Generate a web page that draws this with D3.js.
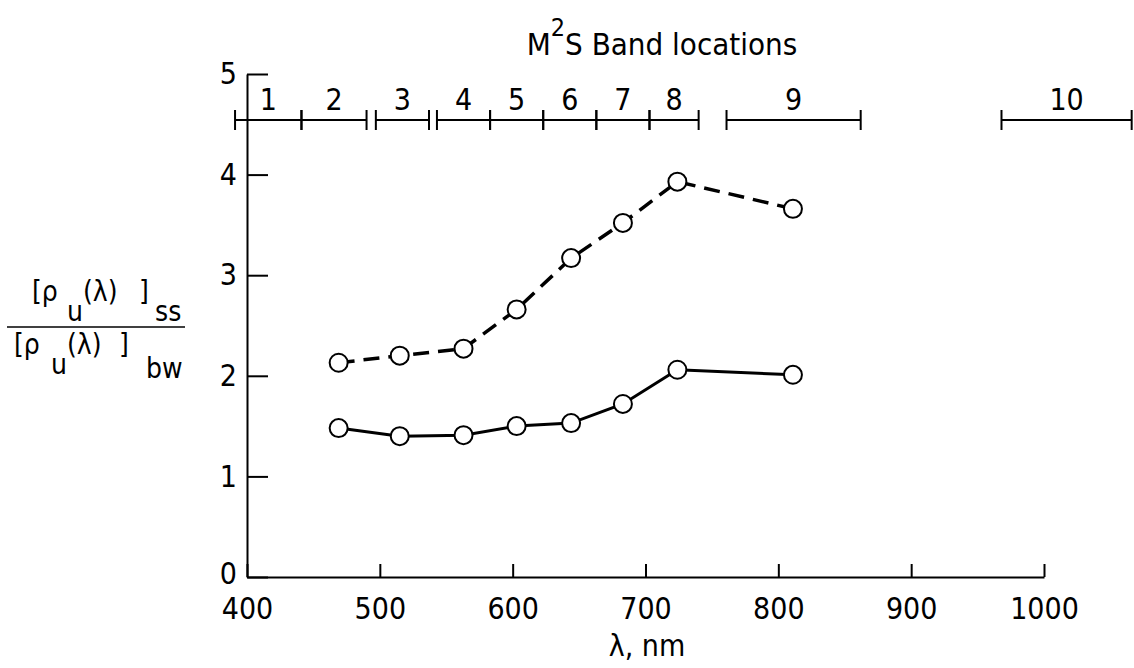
<!DOCTYPE html>
<html>
<head>
<meta charset="utf-8">
<script src="https://cdn.jsdelivr.net/npm/d3@7"></script>
<style>
body { margin: 0; background: #fff; }
text { font-family: "Liberation Sans Narrow", "DejaVu Sans Condensed", "Liberation Sans", sans-serif; fill: #000; }
</style>
</head>
<body>
<div id="svgSpot"></div>
<script>
// wavelength (nm) of each measured point
var wavelengths = [469, 515, 563, 603, 644, 683, 724, 811];
// ratio [rho_u]ss / [rho_u]bw
var ratioDashed = [2.13, 2.20, 2.27, 2.66, 3.17, 3.52, 3.93, 3.66];
var ratioSolid = [1.48, 1.40, 1.41, 1.50, 1.53, 1.72, 2.06, 2.01];

var xTicks = [400, 500, 600, 700, 800, 900, 1000];
var yTicks = [0, 1, 2, 3, 4, 5];

// M2S band locations, nm
var bandNames = ["1", "2", "3", "4", "5", "6", "7", "8", "9", "10"];
var bandStart = [391, 441, 497, 543, 583, 623, 663, 703, 761, 968];
var bandEnd = [441, 490, 537, 583, 623, 663, 703, 740, 862, 1066];

var svg = d3.select('#svgSpot').append('svg')
	.attr("width", 1134)
	.attr("height", 668);

var x = d3.scaleLinear().domain([400, 1000]).range([247, 1044]);
var y = d3.scaleLinear().domain([0, 5]).range([577, 74]);

drawAxes();
drawBands();
drawSeries(ratioDashed, "16,9", 3.5);
drawSeries(ratioSolid, null, 3);
drawLabels();

function drawAxes() {
	var yAxis = d3.axisLeft(y)
		.tickValues(yTicks)
		.tickSizeInner(-21)
		.tickSizeOuter(0)
		.tickPadding(10)
		.tickFormat(d3.format("d"));
	var gy = svg.append("g").attr("transform", "translate(" + x(400) + ",0)").call(yAxis);

	var xAxis = d3.axisBottom(x)
		.tickValues(xTicks)
		.tickSizeInner(-13)
		.tickSizeOuter(0)
		.tickPadding(21)
		.tickFormat(d3.format("d"));
	var gx = svg.append("g").attr("transform", "translate(0," + y(0) + ")").call(xAxis);

	[gx, gy].forEach(function(g) {
		g.selectAll("path, line").attr("stroke", "#000").attr("stroke-width", 2);
		g.selectAll("text").style("font-size", "30px").attr("fill", "#000");
	});
	// lift the "0" a little so it clears the "400" below it
	gy.selectAll(".tick text").filter(function(d) { return d === 0; }).attr("dy", "0.2em");
}

function drawBands() {
	var by = 120;
	var g = svg.append("g");
	for (var i = 0; i < bandNames.length; i++) {
		var x0 = x(bandStart[i]), x1 = x(bandEnd[i]);
		g.append("line").attr("x1", x0).attr("x2", x1).attr("y1", by).attr("y2", by)
			.attr("stroke", "#000").attr("stroke-width", 2);
		g.append("line").attr("x1", x0).attr("x2", x0).attr("y1", by - 10).attr("y2", by + 10)
			.attr("stroke", "#000").attr("stroke-width", 2);
		g.append("line").attr("x1", x1).attr("x2", x1).attr("y1", by - 10).attr("y2", by + 10)
			.attr("stroke", "#000").attr("stroke-width", 2);
		g.append("text")
			.attr("x", (x0 + x1) / 2)
			.attr("y", by - 10)
			.attr("text-anchor", "middle")
			.style("font-size", "30px")
			.text(bandNames[i]);
	}
}

function drawSeries(values, dash, width) {
	var pts = wavelengths.map(function(w, i) { return [w, values[i]]; });
	var line = d3.line()
		.x(function(d) { return x(d[0]); })
		.y(function(d) { return y(d[1]); });
	var path = svg.append("path")
		.datum(pts)
		.attr("d", line)
		.attr("fill", "none")
		.attr("stroke", "#000")
		.attr("stroke-width", width);
	if (dash)
		path.attr("stroke-dasharray", dash);

	svg.selectAll(null)
		.data(pts)
		.enter().append("circle")
		.attr("cx", function(d) { return x(d[0]); })
		.attr("cy", function(d) { return y(d[1]); })
		.attr("r", 9)
		.style("fill", "white")
		.style("stroke", "black")
		.style("stroke-width", 2);
}

function drawLabels() {
	// title
	var t = svg.append("text")
		.attr("x", 662).attr("y", 55)
		.attr("text-anchor", "middle")
		.style("font-size", "31px");
	t.append("tspan").text("M");
	t.append("tspan").attr("dy", -19).style("font-size", "25px").text("2");
	t.append("tspan").attr("dy", 19).text("S Band locations");

	// x axis title
	svg.append("text")
		.attr("x", 647).attr("y", 656)
		.attr("text-anchor", "middle")
		.style("font-size", "30px")
		.text("λ, nm");

	// y axis title as a fraction
	var num = svg.append("text").style("font-size", "28px");
	num.append("tspan").attr("x", 32).attr("y", 301).text("[ρ");
	num.append("tspan").attr("x", 67).attr("y", 321).text("u");
	num.append("tspan").attr("x", 83).attr("y", 301).text("(λ)");
	num.append("tspan").attr("x", 139).attr("y", 301).text("]");
	num.append("tspan").attr("x", 155).attr("y", 321).text("ss");

	svg.append("line")
		.attr("x1", 7).attr("x2", 185).attr("y1", 327).attr("y2", 327)
		.attr("stroke", "#000").attr("stroke-width", 1.5);

	var den = svg.append("text").style("font-size", "28px");
	den.append("tspan").attr("x", 14).attr("y", 354).text("[ρ");
	den.append("tspan").attr("x", 51).attr("y", 374).text("u");
	den.append("tspan").attr("x", 67).attr("y", 354).text("(λ)");
	den.append("tspan").attr("x", 119).attr("y", 354).text("]");
	den.append("tspan").attr("x", 146).attr("y", 378).text("bw");
}
</script>
</body>
</html>
